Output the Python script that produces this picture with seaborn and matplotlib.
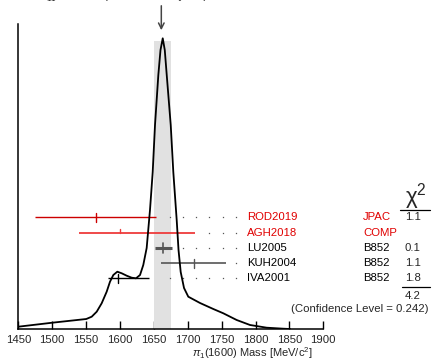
import matplotlib
matplotlib.use("Agg")
import matplotlib.pyplot as plt
import seaborn as sns
import pandas as pd

# Ideogram curve (mass in MeV, height in arbitrary units)
curve_mass = [1450.0, 1500.2, 1550.3, 1558.3, 1565.7, 1573.0, 1580.4, 1585.3, 1590.2,
              1596.1, 1602.6, 1609.9, 1617.3, 1623.7, 1629.6, 1634.4, 1639.4, 1644.3,
              1648.3, 1651.7, 1656.6, 1659.8, 1663.1, 1666.1, 1669.0, 1674.9, 1678.7,
              1683.7, 1686.4, 1689.6, 1694.5, 1700.8, 1718.1, 1737.7, 1752.5, 1772.2,
              1791.9, 1816.5, 1841.0, 1850.9]
curve_height = [2.3, 6.3, 10.0, 12.3, 17.3, 25.7, 37.3, 47.3, 54.0,
                57.3, 55.7, 53.3, 51.3, 50.7, 54.0, 64.0, 81.0, 119.0,
                157.0, 204.0, 254.0, 279.0, 290.7, 279.0, 254.0, 204.0, 157.0,
                109.0, 79.0, 57.0, 41.0, 32.3, 26.0, 20.0, 15.7, 9.0,
                4.0, 1.3, 0.3, 0.0]

# Measurements
names = ["ROD2019", "AGH2018", "LU2005", "KUH2004", "IVA2001"]
values = [1564, 1600, 1664, 1709, 1597]
err_lo = [89, 60, 13, 48, 14]
err_hi = [89, 110, 13, 48, 46]
techniques = ["JPAC", "COMP", "B852", "B852", "B852"]
chi2 = ["1.1", "", "0.1", "1.1", "1.8"]
chi2_total = "4.2"
confidence_level = "0.242"

# Weighted average
avg_value = 1661
avg_err_hi = 15
avg_err_lo = 11

# Styling per measurement row
row_colors = ["#cc0000", "#ee3b3b", "#555555", "#555555", "#000000"]
row_widths = [1.0, 1.3, 2.2, 1.2, 1.0]
text_colors = ["#e00000", "#e00000", "black", "black", "black"]
red = "#e00000"

sns.set_style("white")
plt.rcParams["font.family"] = ["Liberation Sans", "DejaVu Sans"]
plt.rcParams["mathtext.fontset"] = "custom"
plt.rcParams["mathtext.rm"] = "Liberation Sans"
plt.rcParams["mathtext.it"] = "Liberation Sans:italic"

W, H = 433, 360
fig = plt.figure(figsize=(W / 100, H / 100), dpi=100)
ax = fig.add_axes([18.3 / W, 31 / H, 305 / W, 329 / H])
ax.set_xlim(1450, 1900)
ax.set_ylim(0, 329)

# Shaded band for the average
ax.fill_between([avg_value - avg_err_lo, avg_value + avg_err_hi], 0, 288,
                color="#e1e1e1", lw=0, zorder=1)

# Ideogram
df = pd.DataFrame({"mass": curve_mass, "height": curve_height})
sns.lineplot(data=df, x="mass", y="height", ax=ax, color="black", lw=1.3,
             sort=False, zorder=4)

# Arrow marking the average
ax.annotate("", xy=(avg_value, 296), xytext=(avg_value, 326),
            arrowprops=dict(arrowstyle="->", color="#444444", lw=1.1,
                            mutation_scale=10), annotation_clip=False)

# Measurement rows
dot_x = [1673.1 + 19.6 * k for k in range(6)]
label_x = 1787
for i, name in enumerate(names):
    y = 111.7 - 15.25 * i
    lo = values[i] - err_lo[i]
    hi = values[i] + err_hi[i]
    ax.plot([lo, hi], [y, y], color=row_colors[i], lw=row_widths[i],
            solid_capstyle="butt", zorder=3)
    if name == "AGH2018":
        ax.plot([values[i], values[i]], [y, y + 4], color=row_colors[i], lw=1.0, zorder=3)
    elif name == "LU2005":
        ax.plot([values[i], values[i]], [y - 5, y + 5], color=row_colors[i], lw=1.2, zorder=3)
    else:
        ax.plot([values[i], values[i]], [y - 4.5, y + 4.5], color=row_colors[i], lw=1.0, zorder=3)
    dx = [d for d in dot_x if d > hi + 5]
    ax.plot(dx, [y] * len(dx), ls="none", marker="s", ms=0.9, mew=0,
            color="#555555", zorder=2)
    ax.text(label_x, y, name, color=text_colors[i], fontsize=8.2, va="center", ha="left")
    ax.text(1959, y, techniques[i], color=red if i < 2 else "black",
            fontsize=8.2, va="center", ha="left", clip_on=False)
    if chi2[i]:
        ax.text(2032, y, chi2[i], fontsize=8.2, va="center", ha="center", clip_on=False)

# Chi-square column
ax.text(2037, 132, r"$\mathregular{\chi^2}$", fontsize=16, va="center", ha="center",
        clip_on=False)
ax.plot([2013, 2057], [119, 119], color="black", lw=0.9, clip_on=False)
ax.plot([2016, 2057], [42, 42], color="black", lw=0.9, clip_on=False)
ax.text(2032, 33, chi2_total, fontsize=8.2, va="center", ha="center", clip_on=False)
ax.text(2054.5, 20, f"(Confidence Level = {confidence_level})", fontsize=8.2,
        va="center", ha="right", clip_on=False)

# Axes styling
for side in ["top", "right"]:
    ax.spines[side].set_visible(False)
ax.spines["left"].set_bounds(0, 305)
for side in ["left", "bottom"]:
    ax.spines[side].set_color("black")
    ax.spines[side].set_linewidth(1.1)
ax.set_yticks([])
ax.set_xticks(list(range(1450, 1901, 50)))
ax.tick_params(axis="x", direction="in", length=6, width=1.0, color="black",
               labelsize=8.2, pad=4.0, bottom=True)
ax.set_xlabel("")
ax.set_ylabel("")
fig.text(313 / W, 1 - 353 / H, r"$\pi_1$(1600) Mass [MeV/c$^2$]", fontsize=8.0,
         ha="right", va="center")

# Weighted-average caption above the plot
fig.text(57 / W, 1 + 1.0 / H, r"1661$^{+15}_{-11}$", fontsize=8.2, ha="right", va="baseline")
fig.text(156 / W, 1 + 1.0 / H, "(Error scaled by 1.2)", fontsize=8.2, ha="center", va="baseline")

fig.savefig("out.png", dpi=100)
